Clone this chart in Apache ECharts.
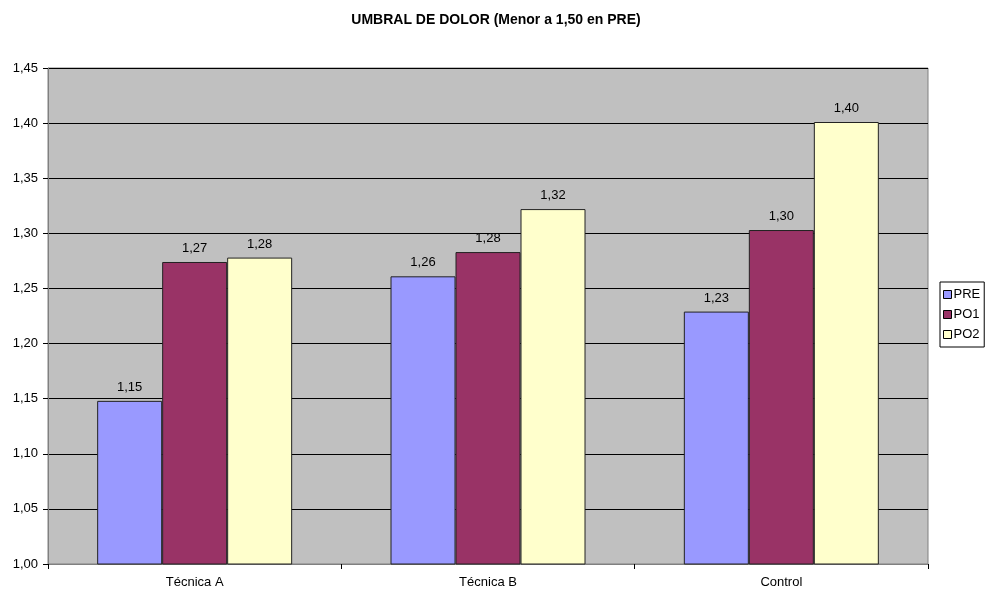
<!DOCTYPE html>
<html>
<head>
<meta charset="utf-8">
<script src="https://cdn.jsdelivr.net/npm/echarts@6/dist/echarts.min.js"></script>
<style>
  html, body { margin: 0; padding: 0; background: #fff; }
  #chart { width: 992px; height: 593px; }
</style>
</head>
<body>
<div id="chart"></div>
<script>
// datos del grafico
const categories = ['Técnica A', 'Técnica B', 'Control']
const seriesNames = ['PRE', 'PO1', 'PO2']
const pre = [1.148, 1.261, 1.229]
const po1 = [1.274, 1.283, 1.303]
const po2 = [1.278, 1.322, 1.401]
const yTicks = [1.00, 1.05, 1.10, 1.15, 1.20, 1.25, 1.30, 1.35, 1.40, 1.45]

const colors = ['#9999FF', '#993366', '#FFFFCC']
const fmt = v => Number(v).toFixed(2).replace('.', ',')
const font = 'Liberation Sans, Arial'

const chart = echarts.init(document.getElementById('chart'))

function barSeries(name, data, i) {
  return {
    name: name,
    type: 'bar',
    data: data,
    barWidth: 65,
    barGap: '0%',
    itemStyle: { color: colors[i], borderColor: '#222', borderWidth: 1 },
    label: {
      show: true,
      position: 'top',
      distance: 7,
      color: '#000',
      fontSize: 13,
      fontFamily: font,
      formatter: p => fmt(p.value)
    }
  }
}

chart.setOption({
  animation: false,
  title: {
    text: 'UMBRAL DE DOLOR (Menor a 1,50 en PRE)',
    left: 'center',
    top: 8,
    textStyle: { fontSize: 14, fontWeight: 'bold', color: '#000', fontFamily: font }
  },
  legend: {
    orient: 'vertical',
    left: 940,
    top: 282,
    data: seriesNames,
    icon: 'rect',
    itemWidth: 8,
    itemHeight: 8,
    itemGap: 7,
    padding: [6, 4, 6, 3],
    borderColor: '#000',
    borderWidth: 1,
    backgroundColor: '#fff',
    itemStyle: { borderColor: '#000', borderWidth: 1 },
    textStyle: { fontSize: 13, color: '#000', padding: [0, 0, 0, -3], fontFamily: font }
  },
  grid: {
    left: 48,
    right: 64,
    top: 68,
    bottom: 29,
    show: true,
    backgroundColor: '#C0C0C0',
    borderColor: '#808080',
    borderWidth: 1
  },
  xAxis: {
    type: 'category',
    data: categories,
    axisLine: { lineStyle: { color: '#808080' } },
    axisTick: { show: true, length: 5, lineStyle: { color: '#000' } },
    axisLabel: { color: '#000', fontSize: 13, margin: 12, fontFamily: font }
  },
  yAxis: {
    type: 'value',
    min: yTicks[0],
    max: yTicks[yTicks.length - 1],
    interval: 0.05,
    axisLine: { show: true, lineStyle: { color: '#808080' } },
    axisTick: { show: true, length: 5, lineStyle: { color: '#000' } },
    splitLine: { show: true, lineStyle: { color: '#000', width: 1 } },
    axisLabel: { color: '#000', fontSize: 13, margin: 10, formatter: v => fmt(v), fontFamily: font }
  },
  series: [
    barSeries('PRE', pre, 0),
    barSeries('PO1', po1, 1),
    barSeries('PO2', po2, 2)
  ]
})
</script>
</body>
</html>
